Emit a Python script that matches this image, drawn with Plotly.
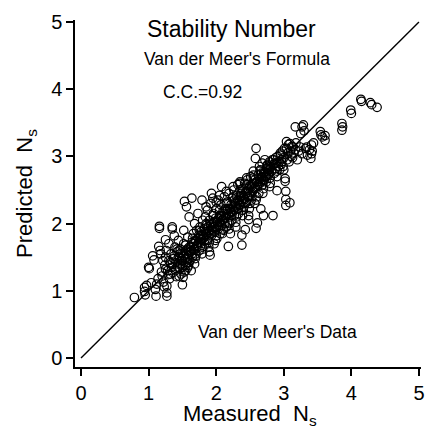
import plotly.graph_objects as go

# Measured N_s (x) and predicted N_s (y)
measured_ns = [
    0.79, 0.94, 0.94, 0.95, 0.97, 1.00, 1.01, 1.04, 1.06, 1.08,
    1.10, 1.11, 1.12, 1.14, 1.15, 1.16, 1.16, 1.17, 1.18, 1.19,
    1.20, 1.21, 1.22, 1.23, 1.24, 1.25, 1.25, 1.26, 1.27, 1.27,
    1.27, 1.28, 1.29, 1.30, 1.31, 1.32, 1.33, 1.34, 1.35, 1.35,
    1.36, 1.37, 1.38, 1.39, 1.40, 1.41, 1.42, 1.43, 1.44, 1.45,
    1.46, 1.47, 1.48, 1.49, 1.50, 1.50, 1.51, 1.52, 1.52, 1.53,
    1.53, 1.54, 1.55, 1.56, 1.57, 1.58, 1.58, 1.59, 1.60, 1.60,
    1.61, 1.62, 1.63, 1.64, 1.64, 1.65, 1.66, 1.67, 1.68, 1.68,
    1.69, 1.70, 1.71, 1.72, 1.73, 1.74, 1.75, 1.76, 1.77, 1.78,
    1.79, 1.79, 1.80, 1.81, 1.82, 1.83, 1.84, 1.85, 1.86, 1.87,
    1.88, 1.89, 1.90, 1.90, 1.91, 1.92, 1.93, 1.93, 1.94, 1.95,
    1.96, 1.97, 1.98, 1.99, 2.00, 2.00, 2.01, 2.02, 2.03, 2.04,
    2.05, 2.06, 2.07, 2.08, 2.08, 2.09, 2.10, 2.11, 2.12, 2.13,
    2.14, 2.15, 2.16, 2.17, 2.18, 2.18, 2.19, 2.20, 2.21, 2.22,
    2.23, 2.24, 2.25, 2.26, 2.27, 2.28, 2.29, 2.30, 2.31, 2.32,
    2.33, 2.34, 2.35, 2.36, 2.37, 2.38, 2.38, 2.38, 2.39, 2.40,
    2.41, 2.42, 2.43, 2.44, 2.45, 2.46, 2.47, 2.48, 2.48, 2.49,
    2.50, 2.51, 2.52, 2.53, 2.54, 2.55, 2.56, 2.57, 2.58, 2.59,
    2.59, 2.60, 2.61, 2.61, 2.62, 2.63, 2.64, 2.65, 2.66, 2.67,
    2.68, 2.69, 2.70, 2.70, 2.71, 2.72, 2.73, 2.74, 2.75, 2.76,
    2.77, 2.78, 2.79, 2.80, 2.81, 2.82, 2.83, 2.84, 2.85, 2.86,
    2.87, 2.88, 2.89, 2.90, 2.90, 2.91, 2.92, 2.93, 2.94, 2.95,
    2.96, 2.97, 2.98, 2.99, 3.00, 3.01, 3.02, 3.02, 3.03, 3.03,
    3.03, 3.04, 3.04, 3.05, 3.06, 3.07, 3.08, 3.09, 3.09, 3.10,
    3.11, 3.12, 3.13, 3.14, 3.15, 3.17, 3.17, 3.18, 3.20, 3.22,
    3.24, 3.25, 3.27, 3.27, 3.29, 3.30, 3.32, 3.34, 3.35, 3.38,
    3.40, 3.41, 3.41, 3.42, 3.44, 3.54, 3.55, 3.57, 3.61, 3.61,
    3.86, 3.86, 3.87, 3.99, 4.00, 4.14, 4.15, 4.28, 4.30, 4.38,
    1.40, 1.43, 1.46, 1.48, 1.50, 1.52, 1.54, 1.56, 1.58, 1.60,
    1.62, 1.64, 1.66, 1.68, 1.70, 1.72, 1.74, 1.76, 1.78, 1.80,
    1.82, 1.84, 1.86, 1.88, 1.90, 1.92, 1.94, 1.96, 1.98, 2.00,
    2.02, 2.04, 2.06, 2.08, 2.10, 2.12, 2.14, 2.16, 2.18, 2.20,
    2.22, 2.24, 2.26, 2.28, 2.30, 2.32, 2.34, 2.36, 2.38, 2.40,
    2.42, 2.44, 2.46, 2.48, 2.50, 2.52, 2.54, 2.56, 2.58, 2.60,
    2.62, 2.64, 2.66, 2.68, 2.70, 2.72, 2.74, 2.76, 2.78, 2.80,
    1.45, 1.55, 1.65, 1.75, 1.85, 1.95, 2.05, 2.15, 2.25, 2.35,
    1.50, 1.60, 1.70, 1.80, 1.90, 2.00, 2.10, 2.20, 2.30, 2.40,
    2.45, 2.55, 2.65, 2.75, 2.85, 2.95, 1.35, 1.38, 1.42, 1.30,
    2.50, 2.60, 2.70, 2.80, 2.90, 3.00, 1.25, 1.32, 1.45, 1.55,
    1.63, 1.73, 1.83, 1.93, 2.03, 2.13, 2.23, 2.33, 2.43, 2.53,
    1.57, 1.67, 1.77, 1.87, 1.97, 2.07, 2.17, 2.27, 2.37, 2.47,
    2.57, 2.67, 2.77, 2.87, 2.97, 1.47, 1.51, 1.59, 1.69, 1.79,
    1.89, 1.99, 2.09, 2.19, 2.29, 2.39, 2.49, 2.59, 2.69, 2.79,
    1.85, 1.95, 2.05, 2.15, 2.25, 2.35, 2.45, 2.55, 2.65, 2.00,
]
predicted_ns = [
    0.90, 1.05, 0.99, 0.94, 1.08, 1.35, 1.33, 1.12, 1.52, 1.46,
    1.02, 0.92, 1.10, 1.18, 1.66, 1.96, 1.93, 1.60, 1.55, 1.28,
    1.22, 1.45, 1.13, 1.06, 1.38, 1.76, 1.50, 1.60, 0.92, 0.97,
    1.07, 1.30, 1.24, 1.70, 1.18, 1.42, 1.55, 1.35, 1.95, 1.92,
    1.27, 1.48, 1.82, 1.65, 1.30, 1.21, 1.58, 1.40, 1.75, 1.50,
    1.33, 1.62, 1.25, 1.45, 1.09, 1.55, 1.38, 1.70, 1.90, 2.33,
    1.28, 1.48, 1.60, 2.25, 1.42, 1.35, 1.80, 1.52, 1.65, 2.10,
    1.45, 1.58, 1.30, 2.38, 1.72, 1.50, 1.85, 1.62, 2.00, 1.40,
    1.75, 1.55, 1.90, 1.68, 2.15, 1.82, 1.60, 1.95, 1.72, 1.88,
    2.35, 1.65, 2.05, 1.78, 1.92, 1.70, 2.10, 1.85, 1.98, 2.20,
    1.75, 1.90, 2.05, 1.58, 1.53, 2.30, 2.45, 1.82, 2.00, 1.95,
    2.15, 1.70, 1.88, 2.08, 2.22, 1.92, 1.78, 2.02, 2.35, 1.96,
    2.12, 1.85, 2.28, 2.55, 1.98, 2.05, 2.18, 1.90, 2.40, 2.08,
    2.22, 1.95, 2.32, 2.02, 1.66, 2.15, 2.45, 2.10, 1.85, 2.28,
    2.05, 2.38, 2.18, 2.50, 2.12, 2.30, 1.95, 2.42, 2.22, 2.58,
    2.15, 2.35, 2.62, 2.28, 2.45, 1.68, 1.83, 2.20, 2.52, 2.38,
    2.25, 2.60, 1.91, 2.48, 2.32, 2.65, 2.40, 2.06, 2.12, 2.55,
    2.42, 2.70, 2.35, 2.58, 2.48, 2.78, 2.52, 2.30, 2.97, 1.93,
    3.12, 2.62, 2.01, 2.55, 2.72, 2.45, 2.85, 2.60, 2.22, 2.68,
    2.90, 2.58, 2.12, 2.75, 2.65, 2.95, 2.70, 2.62, 2.82, 2.88,
    2.72, 2.80, 2.92, 2.68, 2.85, 2.78, 2.95, 2.12, 2.88, 2.75,
    2.82, 2.98, 2.90, 2.49, 2.78, 3.00, 2.85, 2.92, 2.80, 3.05,
    2.88, 2.95, 3.08, 2.85, 2.98, 3.12, 2.63, 2.67, 2.48, 2.36,
    2.27, 3.22, 3.12, 2.95, 3.05, 3.18, 2.92, 2.31, 3.19, 3.08,
    3.00, 3.15, 2.98, 3.14, 3.05, 3.44, 3.10, 3.20, 2.95, 3.08,
    3.14, 3.34, 3.44, 3.04, 3.47, 3.38, 3.12, 3.14, 3.02, 3.10,
    2.97, 3.17, 3.04, 3.08, 3.20, 3.37, 3.32, 3.29, 3.31, 3.24,
    3.49, 3.39, 3.44, 3.69, 3.64, 3.85, 3.82, 3.80, 3.77, 3.73,
    1.42, 1.35, 1.48, 1.40, 1.45, 1.52, 1.38, 1.55, 1.48, 1.58,
    1.65, 1.55, 1.70, 1.62, 1.74, 1.66, 1.72, 1.80, 1.76, 1.84,
    1.80, 1.88, 1.84, 1.95, 1.88, 1.98, 1.90, 2.02, 1.96, 2.04,
    1.98, 2.08, 2.02, 2.12, 2.06, 2.15, 2.10, 2.20, 2.14, 2.22,
    2.18, 2.26, 2.20, 2.32, 2.25, 2.35, 2.28, 2.40, 2.34, 2.42,
    2.36, 2.45, 2.40, 2.50, 2.46, 2.55, 2.50, 2.60, 2.54, 2.62,
    2.58, 2.66, 2.62, 2.70, 2.66, 2.74, 2.70, 2.78, 2.74, 2.82,
    1.60, 1.68, 1.78, 1.90, 2.00, 2.12, 2.20, 2.30, 2.40, 2.50,
    1.35, 1.42, 1.52, 1.62, 1.72, 1.82, 1.92, 2.00, 2.10, 2.20,
    2.58, 2.68, 2.78, 2.86, 2.95, 3.02, 1.40, 1.52, 1.62, 1.45,
    2.30, 2.40, 2.52, 2.60, 2.70, 2.80, 1.32, 1.25, 1.22, 1.30,
    1.60, 1.70, 1.75, 1.85, 1.92, 2.00, 2.12, 2.22, 2.30, 2.40,
    1.62, 1.70, 1.82, 1.92, 2.02, 2.10, 2.22, 2.35, 2.42, 2.52,
    2.65, 2.75, 2.84, 2.90, 2.92, 1.55, 1.20, 1.38, 1.48, 1.55,
    1.65, 1.75, 1.85, 1.92, 2.02, 2.12, 2.22, 2.35, 2.45, 2.55,
    2.25, 2.38, 2.42, 2.48, 2.55, 2.60, 2.68, 2.72, 2.80, 2.32,
]

# Line of perfect agreement
diag_x = [0, 5]
diag_y = [0, 5]

tick_vals = [0, 1, 2, 3, 4, 5]

FONT = "Liberation Sans, Arial, Helvetica, sans-serif"

fig = go.Figure()
fig.add_trace(go.Scatter(
    x=diag_x, y=diag_y, mode="lines",
    line=dict(color="black", width=1.4),
    hoverinfo="skip", showlegend=False,
))
fig.add_trace(go.Scatter(
    x=measured_ns, y=predicted_ns, mode="markers",
    marker=dict(symbol="circle-open", size=8.5, color="black",
                line=dict(color="black", width=1.2)),
    showlegend=False,
))

axis_common = dict(
    showline=True, linecolor="black", linewidth=1.5,
    ticks="outside", ticklen=7, tickwidth=1.5, tickcolor="black",
    tickvals=tick_vals, showgrid=False, zeroline=False,
    tickfont=dict(family=FONT, size=20, color="black"),
    mirror=False, automargin=False, ticklabeloverflow="allow",
)

fig.update_layout(
    width=425, height=429,
    margin=dict(l=75, r=4, t=20, b=62),
    paper_bgcolor="white", plot_bgcolor="white",
    font=dict(family=FONT, color="black"),
    xaxis=dict(range=[-0.089, 5.03], **axis_common),
    yaxis=dict(range=[-0.134, 5.03],
               title=dict(text="Predicted  N<sub>s</sub>",
                          font=dict(family=FONT, size=22, color="black"),
                          standoff=12),
               **axis_common),
    annotations=[
        dict(x=0.505, y=-0.138, xref="paper", yref="paper",
             text="Measured  N<sub>s</sub>", showarrow=False,
             xanchor="center", yanchor="middle",
             font=dict(family=FONT, size=22, color="black")),
        dict(x=2.23, y=4.90, xref="x", yref="y", text="Stability Number",
             showarrow=False, font=dict(family=FONT, size=23, color="black")),
        dict(x=2.31, y=4.45, xref="x", yref="y", text="Van der Meer's Formula",
             showarrow=False, font=dict(family=FONT, size=17.5, color="black")),
        dict(x=1.80, y=3.96, xref="x", yref="y", text="C.C.=0.92",
             showarrow=False, font=dict(family=FONT, size=17.5, color="black")),
        dict(x=2.90, y=0.39, xref="x", yref="y", text="Van der Meer's Data",
             showarrow=False, font=dict(family=FONT, size=17.5, color="black")),
    ],
)

# remove the default page margin so the figure fills the window exactly
fig.write_html(
    "out.html",
    config={"displayModeBar": False},
    post_script="document.body.style.margin='0';document.body.style.overflow='hidden';",
)
